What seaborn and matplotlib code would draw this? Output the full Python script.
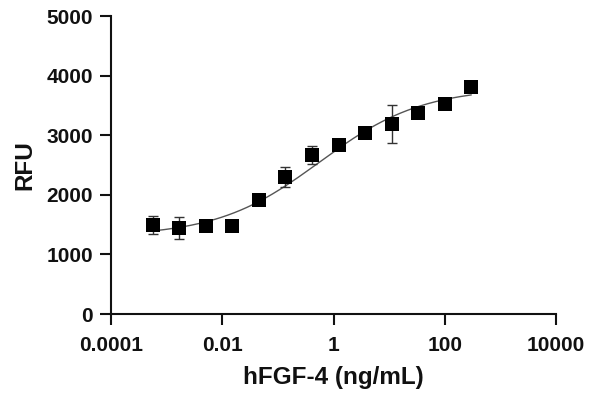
import numpy as np
import pandas as pd
import matplotlib
matplotlib.use("Agg")
import matplotlib.pyplot as plt
import seaborn as sns

# Data
conc = [0.00056, 0.0017, 0.0051, 0.015, 0.046, 0.137, 0.41, 1.23, 3.7, 11.1, 33.3, 100, 300]
rfu = [1493, 1443, 1476, 1476, 1913, 2299, 2668, 2836, 3037, 3188, 3372, 3523, 3809]
rfu_err = [145, 185, 40, 30, 50, 170, 155, 60, 60, 325, 50, 50, 40]

# 4PL fit parameters (estimated from the fitted curve)
fit_bottom = 1300
fit_top = 3800
fit_logec50 = -0.25
fit_hill = 0.47

x_ticks = [0.0001, 0.01, 1, 100, 10000]
x_ticklabels = ["0.0001", "0.01", "1", "100", "10000"]
y_ticks = [0, 1000, 2000, 3000, 4000, 5000]

sns.set_style("ticks")
plt.rcParams["font.family"] = ["Liberation Sans", "DejaVu Sans"]
plt.rcParams["font.weight"] = "bold"

df = pd.DataFrame({"conc": conc, "rfu": rfu, "err": rfu_err})

fig = plt.figure(figsize=(5.9, 3.98), dpi=100)
ax = fig.add_axes([111 / 590, 1 - 314 / 398, (556 - 111) / 590, (314 - 16) / 398])

xs = np.logspace(np.log10(conc[0]), np.log10(conc[-1]), 200)
ys = fit_bottom + (fit_top - fit_bottom) / (1 + 10 ** ((fit_logec50 - np.log10(xs)) * fit_hill))
curve = pd.DataFrame({"conc": xs, "rfu": ys})
sns.lineplot(data=curve, x="conc", y="rfu", ax=ax, color="#555555", linewidth=1.0, zorder=2)

ax.errorbar(df["conc"], df["rfu"], yerr=df["err"], fmt="none", ecolor="#333333",
            elinewidth=1.0, capsize=3.3, capthick=1.0, zorder=3)
sns.scatterplot(data=df, x="conc", y="rfu", ax=ax, marker="s", s=95, color="black",
                edgecolor="black", linewidth=0, zorder=4)

ax.set_xscale("log")
ax.set_xlim(0.0001, 10000)
ax.set_ylim(0, 5000)
ax.set_xticks(x_ticks)
ax.set_xticklabels(x_ticklabels)
ax.minorticks_off()
ax.set_yticks(y_ticks)

for s in ["top", "right"]:
    ax.spines[s].set_visible(False)
for s in ["left", "bottom"]:
    ax.spines[s].set_linewidth(1.5)
    ax.spines[s].set_color("#111111")

ax.tick_params(axis="both", length=8, width=1.5, color="#111111", labelsize=15,
               labelcolor="#111111")
ax.tick_params(axis="x", pad=8)
ax.tick_params(axis="y", pad=5)
for lab in ax.get_xticklabels() + ax.get_yticklabels():
    lab.set_fontweight("bold")

ax.set_xlabel("hFGF-4 (ng/mL)", fontsize=17.5, fontweight="bold", color="#111111", labelpad=8)
ax.set_ylabel("RFU", fontsize=17.5, fontweight="bold", color="#111111", labelpad=7)

fig.savefig("out.png", dpi=100)
